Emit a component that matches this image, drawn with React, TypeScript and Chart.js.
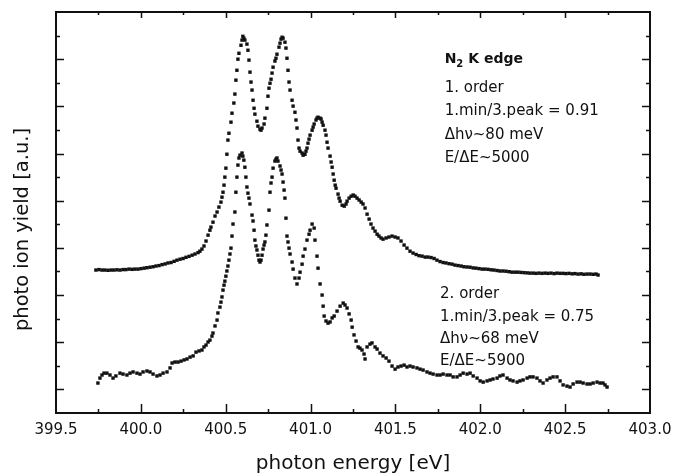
import React, { useEffect, useRef } from "react";
import { Chart, registerables } from "chart.js";

Chart.register(...registerables);

// 1st order spectrum (upper curve): photon energy [eV] and ion yield [a.u.]
const upperX = [
  399.735, 399.753, 399.771, 399.788, 399.806, 399.824, 399.841, 399.859, 399.877, 399.895,
  399.912, 399.930, 399.948, 399.965, 399.983, 400.001, 400.019, 400.036, 400.054, 400.072,
  400.089, 400.107, 400.125, 400.143, 400.160, 400.178, 400.196, 400.213, 400.231, 400.249,
  400.266, 400.284, 400.302, 400.319, 400.337, 400.348, 400.360, 400.372, 400.384, 400.396,
  400.407, 400.413, 400.425, 400.437, 400.449, 400.460, 400.472, 400.478, 400.484, 400.490,
  400.495, 400.501, 400.507, 400.513, 400.519, 400.531, 400.537, 400.548, 400.554, 400.560,
  400.566, 400.572, 400.578, 400.590, 400.596, 400.601, 400.607, 400.613, 400.625, 400.631,
  400.637, 400.643, 400.649, 400.655, 400.661, 400.667, 400.672, 400.684, 400.690, 400.702,
  400.708, 400.714, 400.726, 400.731, 400.743, 400.749, 400.755, 400.761, 400.767, 400.773,
  400.779, 400.790, 400.796, 400.802, 400.814, 400.820, 400.826, 400.832, 400.838, 400.849,
  400.855, 400.861, 400.867, 400.873, 400.879, 400.891, 400.897, 400.908, 400.914, 400.920,
  400.926, 400.932, 400.938, 400.950, 400.956, 400.967, 400.973, 400.979, 400.985, 400.991,
  400.997, 401.009, 401.015, 401.021, 401.032, 401.038, 401.044, 401.056, 401.062, 401.068,
  401.074, 401.085, 401.091, 401.097, 401.103, 401.115, 401.121, 401.127, 401.133, 401.139,
  401.145, 401.150, 401.162, 401.168, 401.174, 401.186, 401.198, 401.209, 401.215, 401.227,
  401.239, 401.251, 401.262, 401.274, 401.286, 401.298, 401.309, 401.321, 401.333, 401.345,
  401.356, 401.368, 401.380, 401.392, 401.403, 401.415, 401.427, 401.445, 401.462, 401.480,
  401.498, 401.515, 401.533, 401.551, 401.568, 401.586, 401.604, 401.622, 401.639, 401.657,
  401.675, 401.692, 401.710, 401.728, 401.745, 401.763, 401.781, 401.798, 401.816, 401.834,
  401.851, 401.869, 401.887, 401.904, 401.922, 401.940, 401.958, 401.975, 401.993, 402.011,
  402.028, 402.046, 402.064, 402.081, 402.099, 402.116, 402.134, 402.152, 402.170, 402.187,
  402.205, 402.222, 402.240, 402.258, 402.276, 402.293, 402.311, 402.328, 402.346, 402.364,
  402.382, 402.399, 402.417, 402.435, 402.452, 402.470, 402.488, 402.505, 402.523, 402.541,
  402.558, 402.576, 402.594, 402.611, 402.629, 402.647, 402.665, 402.682, 402.694,
];
const upperY = [
  6.06, 6.08, 6.06, 6.06, 6.05, 6.06, 6.06, 6.07, 6.06, 6.08,
  6.08, 6.10, 6.09, 6.10, 6.10, 6.12, 6.14, 6.16, 6.18, 6.20,
  6.23, 6.25, 6.29, 6.32, 6.36, 6.38, 6.43, 6.48, 6.52, 6.55,
  6.60, 6.64, 6.69, 6.74, 6.80, 6.86, 6.95, 7.08, 7.29, 7.54,
  7.75, 7.88, 8.09, 8.35, 8.52, 8.73, 8.94, 9.15, 9.36, 9.66,
  10.00, 10.38, 10.97, 11.57, 11.86, 12.33, 12.71, 13.14, 13.52, 14.11,
  14.53, 15.00, 15.25, 15.59, 15.81, 15.97, 15.89, 15.81, 15.64, 15.38,
  14.96, 14.45, 14.03, 13.69, 13.26, 12.92, 12.67, 12.37, 12.16, 12.03,
  11.99, 12.08, 12.25, 12.50, 12.92, 13.43, 13.77, 13.98, 14.15, 14.41,
  14.66, 14.92, 15.04, 15.21, 15.51, 15.68, 15.85, 15.93, 15.89, 15.72,
  15.47, 15.04, 14.53, 14.03, 13.69, 13.26, 13.01, 12.75, 12.42, 12.08,
  11.57, 11.23, 11.10, 11.02, 10.93, 10.97, 11.10, 11.23, 11.44, 11.61,
  11.78, 11.99, 12.12, 12.25, 12.42, 12.50, 12.54, 12.50, 12.46, 12.33,
  12.20, 11.99, 11.78, 11.48, 11.23, 10.89, 10.64, 10.42, 10.13, 9.87,
  9.66, 9.53, 9.28, 9.11, 8.98, 8.81, 8.77, 8.86, 8.98, 9.11,
  9.19, 9.24, 9.19, 9.11, 9.03, 8.94, 8.86, 8.69, 8.43, 8.22,
  8.01, 7.84, 7.71, 7.58, 7.50, 7.42, 7.37, 7.42, 7.46, 7.50,
  7.46, 7.42, 7.29, 7.12, 6.99, 6.86, 6.78, 6.72, 6.67, 6.65,
  6.61, 6.61, 6.59, 6.55, 6.48, 6.42, 6.38, 6.36, 6.33, 6.31,
  6.27, 6.25, 6.23, 6.20, 6.19, 6.18, 6.15, 6.14, 6.12, 6.10,
  6.10, 6.09, 6.07, 6.06, 6.04, 6.02, 6.02, 6.01, 5.99, 5.97,
  5.97, 5.97, 5.96, 5.95, 5.94, 5.93, 5.93, 5.92, 5.93, 5.92,
  5.93, 5.92, 5.93, 5.91, 5.93, 5.92, 5.92, 5.91, 5.92, 5.90,
  5.91, 5.89, 5.90, 5.88, 5.89, 5.89, 5.88, 5.89, 5.85,
];

// 2nd order spectrum (lower curve)
const lowerX = [
  399.747, 399.759, 399.771, 399.783, 399.800, 399.818, 399.836, 399.853, 399.877, 399.895,
  399.918, 399.936, 399.954, 399.977, 399.995, 400.013, 400.036, 400.054, 400.072, 400.095,
  400.113, 400.131, 400.154, 400.172, 400.184, 400.201, 400.219, 400.237, 400.255, 400.272,
  400.290, 400.308, 400.325, 400.343, 400.360, 400.372, 400.384, 400.396, 400.407, 400.419,
  400.425, 400.437, 400.449, 400.454, 400.466, 400.472, 400.478, 400.484, 400.490, 400.495,
  400.501, 400.507, 400.513, 400.519, 400.525, 400.531, 400.537, 400.543, 400.554, 400.560,
  400.566, 400.572, 400.578, 400.584, 400.596, 400.601, 400.607, 400.613, 400.619, 400.625,
  400.631, 400.637, 400.643, 400.655, 400.661, 400.667, 400.672, 400.678, 400.684, 400.690,
  400.696, 400.702, 400.708, 400.714, 400.720, 400.726, 400.731, 400.737, 400.743, 400.755,
  400.761, 400.767, 400.773, 400.779, 400.790, 400.796, 400.802, 400.808, 400.820, 400.826,
  400.832, 400.838, 400.844, 400.849, 400.855, 400.861, 400.867, 400.873, 400.879, 400.891,
  400.897, 400.908, 400.920, 400.932, 400.938, 400.950, 400.956, 400.967, 400.979, 400.991,
  400.997, 401.009, 401.021, 401.026, 401.038, 401.044, 401.056, 401.068, 401.074, 401.080,
  401.091, 401.103, 401.115, 401.127, 401.139, 401.156, 401.174, 401.192, 401.203, 401.215,
  401.227, 401.239, 401.245, 401.256, 401.268, 401.280, 401.291, 401.303, 401.315, 401.321,
  401.333, 401.350, 401.362, 401.380, 401.392, 401.409, 401.427, 401.445, 401.462, 401.480,
  401.498, 401.515, 401.533, 401.551, 401.568, 401.586, 401.604, 401.627, 401.645, 401.663,
  401.686, 401.704, 401.722, 401.745, 401.763, 401.781, 401.804, 401.822, 401.840, 401.863,
  401.881, 401.899, 401.922, 401.940, 401.958, 401.981, 401.999, 402.017, 402.040, 402.058,
  402.075, 402.099, 402.116, 402.134, 402.158, 402.175, 402.193, 402.217, 402.234, 402.252,
  402.276, 402.293, 402.311, 402.334, 402.352, 402.370, 402.393, 402.411, 402.429, 402.452,
  402.470, 402.488, 402.511, 402.529, 402.547, 402.570, 402.588, 402.606, 402.629, 402.647,
  402.665, 402.688, 402.706, 402.723, 402.735, 402.747,
];
const lowerY = [
  1.27, 1.48, 1.61, 1.69, 1.69, 1.61, 1.48, 1.57, 1.69, 1.65,
  1.61, 1.69, 1.74, 1.69, 1.65, 1.74, 1.78, 1.74, 1.65, 1.57,
  1.61, 1.69, 1.74, 1.91, 2.12, 2.16, 2.16, 2.20, 2.25, 2.29,
  2.37, 2.42, 2.58, 2.63, 2.67, 2.80, 2.88, 3.01, 3.09, 3.26,
  3.39, 3.69, 3.94, 4.24, 4.49, 4.70, 4.92, 5.21, 5.42, 5.59,
  5.80, 6.02, 6.23, 6.48, 6.74, 6.99, 7.50, 8.01, 8.52, 9.36,
  10.00, 10.51, 10.81, 10.93, 11.02, 10.89, 10.72, 10.42, 10.00, 9.58,
  9.32, 9.11, 8.86, 8.39, 8.14, 7.75, 7.33, 7.08, 6.91, 6.69,
  6.48, 6.40, 6.48, 6.69, 6.95, 7.12, 7.25, 7.54, 7.97, 8.60,
  9.36, 9.75, 10.00, 10.38, 10.68, 10.76, 10.81, 10.68, 10.47, 10.30,
  10.13, 9.79, 9.45, 9.11, 8.26, 7.50, 7.25, 6.99, 6.74, 6.40,
  6.10, 5.72, 5.47, 5.72, 5.97, 6.31, 6.65, 6.95, 7.33, 7.58,
  7.75, 8.01, 7.84, 7.33, 6.65, 6.14, 5.47, 5.00, 4.53, 4.11,
  3.90, 3.81, 3.86, 4.03, 4.11, 4.32, 4.53, 4.66, 4.58, 4.45,
  4.20, 3.94, 3.64, 3.31, 3.05, 2.80, 2.75, 2.67, 2.50, 2.29,
  2.80, 2.92, 2.97, 2.80, 2.71, 2.54, 2.42, 2.33, 2.20, 1.99,
  1.86, 1.95, 1.99, 2.03, 1.95, 1.99, 1.95, 1.91, 1.86, 1.82,
  1.74, 1.69, 1.65, 1.61, 1.61, 1.65, 1.61, 1.61, 1.53, 1.53,
  1.61, 1.69, 1.65, 1.69, 1.57, 1.48, 1.36, 1.31, 1.36, 1.40,
  1.44, 1.48, 1.57, 1.61, 1.48, 1.40, 1.36, 1.31, 1.36, 1.40,
  1.48, 1.53, 1.53, 1.48, 1.36, 1.27, 1.40, 1.48, 1.53, 1.53,
  1.36, 1.19, 1.14, 1.10, 1.23, 1.31, 1.31, 1.27, 1.23, 1.23,
  1.27, 1.31, 1.27, 1.27, 1.19, 1.10,
];

const xMin = 399.5;
const xMax = 403.0;
const xStep = 0.5;
const yMin = 0;
const yMax = 17;

const xTitle = "photon energy [eV]";
const yTitle = "photo ion yield [a.u.]";
const upperNotes = ["1. order", "1.min/3.peak = 0.91", "\u0394h\u03bd~80 meV", "E/\u0394E~5000"];
const lowerNotes = ["2. order", "1.min/3.peak = 0.75", "\u0394h\u03bd~68 meV", "E/\u0394E~5900"];

const INK = "#111111";
const FONT = "'DejaVu Sans', 'Liberation Sans', sans-serif";

export default function App() {
  const ref = useRef<HTMLCanvasElement>(null);

  useEffect(() => {
    const canvas = ref.current;
    if (!canvas) return;

    const decor = {
      id: "decor",
      afterDraw(chart: any) {
        const { ctx, chartArea: a, scales } = chart;
        const xs = scales.x;
        const ys = scales.y;
        ctx.save();
        ctx.strokeStyle = INK;
        ctx.lineWidth = 2;
        ctx.strokeRect(a.left, a.top, a.right - a.left, a.bottom - a.top);
        ctx.lineWidth = 1.5;
        ctx.beginPath();
        const nX = Math.round((xMax - xMin) / 0.25);
        for (let i = 1; i < nX; i++) {
          const px = Math.round(xs.getPixelForValue(xMin + i * 0.25)) + 0.5;
          const major = i % 2 === 0;
          ctx.moveTo(px, a.bottom);
          ctx.lineTo(px, a.bottom - (major ? 9 : 4));
          ctx.moveTo(px, a.top);
          ctx.lineTo(px, a.top + (major ? 6 : 3));
        }
        for (let v = yMin + 1; v < yMax; v++) {
          const py = Math.round(ys.getPixelForValue(v)) + 0.5;
          const major = v % 2 === 1;
          ctx.moveTo(a.left, py);
          ctx.lineTo(a.left + (major ? 8 : 4), py);
          ctx.moveTo(a.right, py);
          ctx.lineTo(a.right - (major ? 8 : 4), py);
        }
        ctx.stroke();

        // y axis title
        ctx.fillStyle = INK;
        ctx.save();
        ctx.translate(28, (a.top + a.bottom) / 2 + 17);
        ctx.rotate(-Math.PI / 2);
        ctx.font = `19.5px ${FONT}`;
        ctx.textAlign = "center";
        ctx.textBaseline = "alphabetic";
        ctx.fillText(yTitle, 0, 0);
        ctx.restore();

        // annotations
        ctx.textAlign = "left";
        ctx.textBaseline = "alphabetic";
        const ux = xs.getPixelForValue(401.79);
        const by = ys.getPixelForValue(14.83);
        ctx.font = `bold 14px ${FONT}`;
        ctx.fillText("N", ux, by);
        let w = ctx.measureText("N").width;
        ctx.font = `bold 10px ${FONT}`;
        ctx.fillText("2", ux + w, by + 4);
        w += ctx.measureText("2").width;
        ctx.font = `bold 14px ${FONT}`;
        ctx.fillText(" K edge", ux + w, by);

        ctx.font = `15px ${FONT}`;
        const upperBase = [13.6, 12.63, 11.61, 10.64];
        upperNotes.forEach((t, i) => ctx.fillText(t, ux, ys.getPixelForValue(upperBase[i])));
        const lx = xs.getPixelForValue(401.763);
        const lowerBase = [4.87, 3.9, 2.97, 2.03];
        lowerNotes.forEach((t, i) => ctx.fillText(t, lx, ys.getPixelForValue(lowerBase[i])));
        ctx.restore();
      },
    };

    const toPts = (xs: number[], ys: number[]) => xs.map((x, i) => ({ x, y: ys[i] }));

    const chart = new Chart(canvas, {
      type: "scatter",
      data: {
        datasets: [
          {
            label: "1. order",
            data: toPts(upperX, upperY),
            pointStyle: "rect",
            pointRadius: 2.4,
            pointBorderWidth: 0,
            backgroundColor: INK,
            borderColor: INK,
            showLine: false,
          },
          {
            label: "2. order",
            data: toPts(lowerX, lowerY),
            pointStyle: "rect",
            pointRadius: 2.4,
            pointBorderWidth: 0,
            backgroundColor: INK,
            borderColor: INK,
            showLine: false,
          },
        ],
      },
      plugins: [decor],
      options: {
        animation: false,
        responsive: false,
        maintainAspectRatio: false,
        events: [],
        layout: { padding: { top: 12, right: 23, bottom: 0, left: 0 } },
        plugins: { legend: { display: false }, tooltip: { enabled: false } },
        scales: {
          x: {
            type: "linear",
            min: xMin,
            max: xMax,
            border: { display: false },
            grid: { display: false, drawTicks: false },
            ticks: {
              stepSize: xStep,
              autoSkip: false,
              maxRotation: 0,
              padding: 8,
              color: INK,
              font: { family: FONT, size: 15 },
              callback: (v: any) => Number(v).toFixed(1),
            },
            title: {
              display: true,
              text: xTitle,
              color: INK,
              font: { family: FONT, size: 20, lineHeight: 1 },
              padding: { top: 0, bottom: 0 },
            },
            afterFit: (s: any) => {
              s.height = 61;
              s.paddingLeft = 0;
              s.paddingRight = 0;
            },
          },
          y: {
            type: "linear",
            min: yMin,
            max: yMax,
            border: { display: false },
            grid: { display: false, drawTicks: false },
            ticks: { display: false, stepSize: 1 },
            afterFit: (s: any) => {
              s.width = 56;
              s.paddingTop = 0;
              s.paddingBottom = 0;
            },
          },
        },
      },
    });
    return () => chart.destroy();
  }, []);

  return (
    <div style={{ position: "absolute", left: 0, top: 0, width: 673, height: 474, background: "#fff" }}>
      <canvas ref={ref} width={673} height={474} style={{ display: "block" }} />
    </div>
  );
}
